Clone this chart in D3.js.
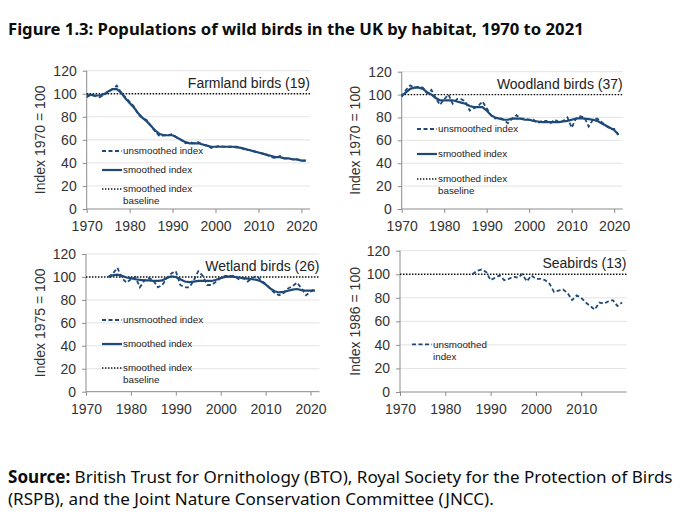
<!DOCTYPE html>
<html>
<head>
<meta charset="utf-8">
<script src="https://cdn.jsdelivr.net/npm/d3@7"></script>
<style>
  body { margin: 0; background: #fff; }
  text { font-family: "Liberation Sans", Arial, sans-serif; }
</style>
</head>
<body>
<svg id="chart" width="680" height="530"></svg>
<script>
// Values (index, base year = 100)
const farmYears = d3.range(1970, 2022);
const farmRaw = [97, 99, 98, 97, 99, 101, 104, 107, 101, 97,
    93, 89, 82, 79, 77, 72, 67, 63, 64, 64,
    65, 62, 60, 57, 58, 57, 58, 56, 55, 53,
    54, 55, 54, 54, 54, 54, 53, 51, 51, 50,
    49, 48, 47, 45, 44, 46, 44, 44, 43, 43,
    42, 42];
const farmSmooth = [99, 99, 98.5, 98.5, 99.5, 102, 104, 104, 101, 96,
    92, 88, 83, 79, 76, 72, 68, 65, 64, 64,
    64, 62, 60, 58, 57, 57, 57, 56, 55, 54,
    54, 54, 54, 54, 54, 53.5, 53, 52, 51, 50,
    49, 48, 47, 46, 45, 45, 44, 44, 43, 43,
    42, 42];

const woodYears = d3.range(1970, 2022);
const woodRaw = [98, 104, 108, 106, 107, 106, 101, 104, 97, 91,
    96, 100, 92, 96, 96, 94, 86, 88, 90, 94,
    88, 82, 79, 80, 78, 75, 79, 82, 79, 79,
    78, 78, 75, 77, 77, 75, 78, 76, 77, 80,
    71, 79, 81, 80, 72, 78, 79, 76, 73, 70,
    70, 65];
const woodSmooth = [99, 102, 105, 106, 106, 105, 102, 100, 97, 95,
    95, 95, 95, 94, 93, 92, 90, 89, 89, 89,
    86, 82, 80, 79, 78, 78, 79, 79, 79, 78,
    78, 77, 76.5, 76, 76, 76, 76, 76, 76.5, 77,
    78, 79, 79.5, 79, 78.5, 78, 77, 75, 73, 71,
    69, 65];

const wetYears = d3.range(1975, 2022);
const wetRaw = [100, 103, 108, 99, 95,
    98, 100, 91, 97, 99, 97, 91, 93, 99, 103,
    105, 93, 91, 91, 97, 105, 101, 93, 93, 96,
    99, 101, 101, 101, 98, 99, 96, 99, 101, 97,
    94, 90, 86, 84, 86, 90, 92, 95, 90, 84,
    87, 90];
const wetSmooth = [100, 101.5, 102, 101, 99.5,
    99, 98, 97.5, 97, 97, 96.5, 96.5, 97, 99, 100.5,
    100, 98, 96, 95.5, 96, 96.5, 96.5, 96.5, 96.5, 97.5,
    99, 100, 100.5, 100, 99.5, 99, 98.5, 98, 97.5, 96,
    93.5, 90, 87.5, 86.5, 87, 88, 89, 89.5, 88.5, 88,
    88, 88];

const seaYears = d3.range(1986, 2020);
const seaRaw = [100, 103, 104, 102, 95,
    97, 99, 95, 96, 98, 97, 100, 94, 99, 96,
    96, 95, 92, 85, 86, 87, 84, 78, 82, 80,
    76, 73, 70, 76, 75, 77, 78, 73, 76];

const yTicks = [0, 20, 40, 60, 80, 100, 120];
const xTicksFull = [1970, 1980, 1990, 2000, 2010, 2020];
const xTicksSea = [1970, 1980, 1990, 2000, 2010];

const legendFull = [
    { kind: "raw", label: ["unsmoothed index"] },
    { kind: "smooth", label: ["smoothed index"] },
    { kind: "base", label: ["smoothed index", "baseline"] }
];
const legendSea = [{ kind: "raw", label: ["unsmoothed", "index"] }];

const panels = [
    { title: "Farmland birds (19)", yLabel: "Index 1970 = 100",
      years: farmYears, raw: farmRaw, smooth: farmSmooth,
      xDomain: [1970, 2022], xTicks: xTicksFull,
      box: { x0: 86.7, x1: 310, top: 70.7, bottom: 209 }, yTitleX: 40,
      legend: legendFull, leg: { x: 102, y: 151, gap: 19 } },
    { title: "Woodland birds (37)", yLabel: "Index 1970 = 100",
      years: woodYears, raw: woodRaw, smooth: woodSmooth,
      xDomain: [1970, 2022], xTicks: xTicksFull,
      box: { x0: 401.7, x1: 622.7, top: 71.7, bottom: 209 }, yTitleX: 355,
      legend: legendFull, leg: { x: 417, y: 129, gap: 25 } },
    { title: "Wetland birds (26)", yLabel: "Index 1975 = 100",
      years: wetYears, raw: wetRaw, smooth: wetSmooth,
      xDomain: [1970, 2022], xTicks: xTicksFull,
      box: { x0: 86, x1: 319.5, top: 254, bottom: 391.7 }, yTitleX: 40,
      legend: legendFull, leg: { x: 102, y: 320, gap: 24 } },
    { title: "Seabirds (13)", yLabel: "Index 1986 = 100",
      years: seaYears, raw: seaRaw, smooth: null,
      xDomain: [1970, 2020], xTicks: xTicksSea,
      box: { x0: 400, x1: 626.5, top: 250.7, bottom: 392 }, yTitleX: 355,
      legend: legendSea, leg: { x: 412, y: 344.3, gap: 24 } }
];

const lineColor = "#1f4a78";
const textColor = "#333";
const svg = d3.select("#chart");
svg.append("rect").attr("width", 680).attr("height", 530).attr("fill", "#fff");

// Figure title, sized to the reference width
const title = svg.append("text")
    .attr("x", 8).attr("y", 35)
    .style("font-family", "'Noto Sans', sans-serif")
    .style("font-weight", 700)
    .style("font-size", "16px")
    .attr("fill", "#0b0c0c")
    .text("Figure 1.3: Populations of wild birds in the UK by habitat, 1970 to 2021");
fitWidth(title, 576);

panels.forEach(p => {
    const b = p.box;
    const x = d3.scaleLinear().domain(p.xDomain).range([b.x0, b.x1]);
    const y = d3.scaleLinear().domain([0, 120]).range([b.bottom, b.top]);
    const g = svg.append("g");

    // gridlines
    g.selectAll(".grid").data(yTicks.slice(1)).enter().append("line")
        .attr("x1", b.x0).attr("x2", b.x1)
        .attr("y1", d => y(d)).attr("y2", d => y(d))
        .attr("stroke", "#e3e3e3").attr("stroke-width", 1);

    // axes
    const yAxis = g.append("g").attr("transform", `translate(${b.x0},0)`)
        .call(d3.axisLeft(y).tickValues(yTicks).tickSize(4).tickPadding(6));
    const xAxis = g.append("g").attr("transform", `translate(0,${b.bottom})`)
        .call(d3.axisBottom(x).tickValues(p.xTicks).tickFormat(d3.format("d"))
            .tickSize(4).tickPadding(8).tickSizeOuter(0));
    [yAxis, xAxis].forEach(ax => {
        ax.select(".domain").attr("stroke", "#8c8c8c");
        ax.selectAll(".tick line").attr("stroke", "#8c8c8c");
        ax.selectAll(".tick text").attr("fill", textColor)
            .style("font-size", "14px").style("font-family", "'Liberation Sans', Arial, sans-serif");
    });
    yAxis.select(".domain").attr("d", `M0,${b.bottom}V${b.top}`);
    xAxis.select(".domain").attr("d", `M${b.x0},0H${b.x1}`);

    // y-axis title
    g.append("text")
        .attr("transform", `translate(${p.yTitleX},${(b.top + b.bottom) / 2}) rotate(-90)`)
        .attr("text-anchor", "middle").attr("dy", "0.35em")
        .attr("fill", textColor).style("font-size", "14px")
        .text(p.yLabel);

    // panel title
    g.append("text")
        .attr("x", b.x1).attr("y", y(109.5))
        .attr("text-anchor", "end").attr("dy", "0.35em")
        .attr("fill", "#222").style("font-size", "14px")
        .text(p.title);

    // baseline at 100
    g.append("line")
        .attr("x1", b.x0).attr("x2", b.x1)
        .attr("y1", y(100)).attr("y2", y(100))
        .attr("stroke", "#111").attr("stroke-width", 1.4)
        .attr("stroke-dasharray", "1.4,1.6");

    const line = d3.line().x(d => x(d[0])).y(d => y(d[1]));
    if (p.smooth) {
        g.append("path")
            .attr("d", line(p.years.map((yr, i) => [yr, p.smooth[i]])))
            .attr("fill", "none").attr("stroke", lineColor).attr("stroke-width", 2.2);
    }
    g.append("path")
        .attr("d", line(p.years.map((yr, i) => [yr, p.raw[i]])))
        .attr("fill", "none").attr("stroke", lineColor).attr("stroke-width", 1.8)
        .attr("stroke-dasharray", "4,2.5");

    // legend
    p.legend.forEach((item, i) => {
        const ly = p.leg.y + i * p.leg.gap;
        const sample = g.append("line")
            .attr("x1", p.leg.x).attr("x2", p.leg.x + 20)
            .attr("y1", ly).attr("y2", ly);
        if (item.kind === "raw") {
            sample.attr("stroke", lineColor).attr("stroke-width", 1.8).attr("stroke-dasharray", "4,2.5");
        } else if (item.kind === "smooth") {
            sample.attr("stroke", lineColor).attr("stroke-width", 2.2);
        } else {
            sample.attr("stroke", "#111").attr("stroke-width", 1.4).attr("stroke-dasharray", "1.4,1.6");
        }
        item.label.forEach((t, j) => {
            g.append("text")
                .attr("x", p.leg.x + 21).attr("y", ly + j * 12)
                .attr("dy", "0.35em").attr("fill", "#222")
                .style("font-size", "9.8px")
                .text(t);
        });
    });
});

// Source note
const src1 = svg.append("text")
    .attr("x", 8).attr("y", 483)
    .style("font-family", "'Noto Sans', sans-serif")
    .style("font-size", "15px").attr("fill", "#0b0c0c");
src1.append("tspan").style("font-weight", 700).text("Source:");
src1.append("tspan").text(" British Trust for Ornithology (BTO), Royal Society for the Protection of Birds");
const srcSize = fitWidth(src1, 665);
svg.append("text")
    .attr("x", 8).attr("y", 505)
    .style("font-family", "'Noto Sans', sans-serif")
    .style("font-size", srcSize + "px").attr("fill", "#0b0c0c")
    .text("(RSPB), and the Joint Nature Conservation Committee (JNCC).");

function fitWidth(sel, target) {
    const size = parseFloat(sel.style("font-size"));
    const w = sel.node().getComputedTextLength();
    const s = size * target / w;
    sel.style("font-size", s + "px");
    return s;
}
</script>
</body>
</html>
